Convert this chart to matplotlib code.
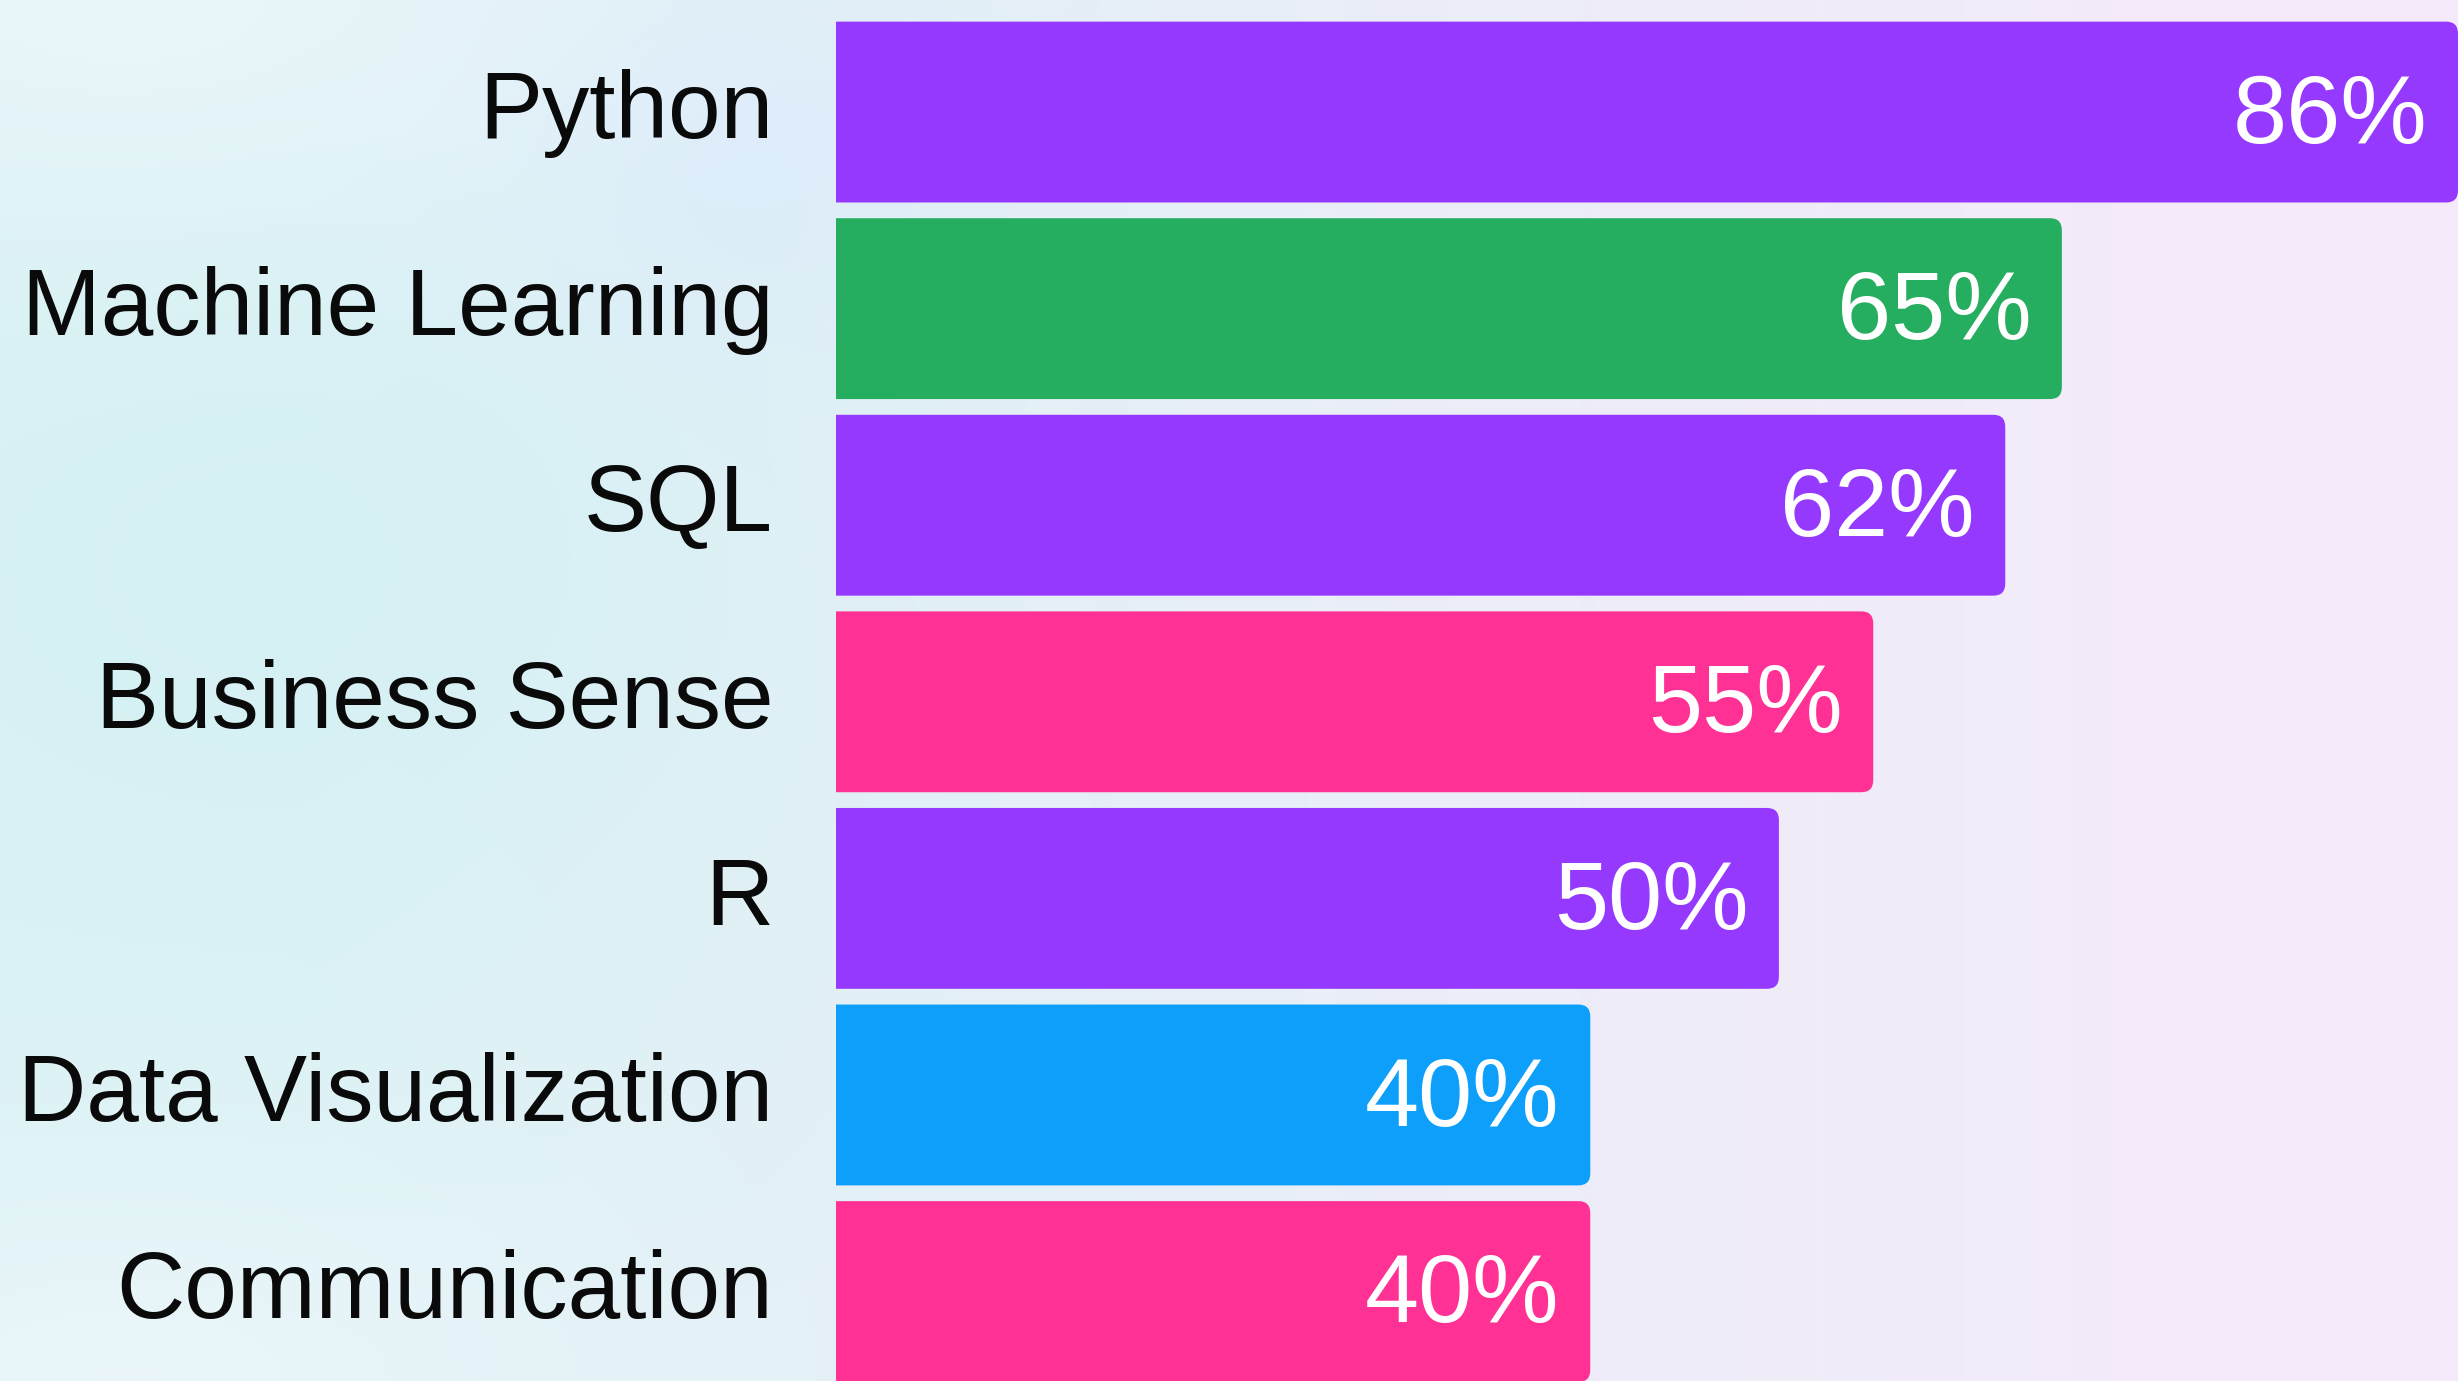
import numpy as np
import matplotlib
matplotlib.use("Agg")
import matplotlib.pyplot as plt
from matplotlib.patches import FancyBboxPatch
from matplotlib.transforms import ScaledTranslation

plt.rcParams["font.family"] = ["Liberation Sans", "DejaVu Sans"]

skills = ["Python", "Machine Learning", "SQL", "Business Sense", "R",
          "Data Visualization", "Communication"]
shares = [86, 65, 62, 55, 50, 40, 40]
colors = ["#9639ff", "#26ae60", "#9639ff", "#ff3194", "#9639ff",
          "#0d9ffa", "#ff3194"]

fig = plt.figure(figsize=(12.29, 6.905), dpi=200)

# soft pastel background
bg = fig.add_axes([0, 0, 1, 1], zorder=0)
bg.axis("off")
h, w = 140, 250
yy, xx = np.mgrid[1:0:h * 1j, 0:1:w * 1j]
left = np.array([0.86, 0.95, 0.96])
right = np.array([0.96, 0.92, 0.98])
t = np.clip(xx * 1.3 - 0.15, 0, 1)[..., None]
img = left * (1 - t) + right * t
blob = np.exp(-((xx - 0.12) ** 2 / 0.04 + (yy - 0.6) ** 2 / 0.06))[..., None]
img = img * (1 - 0.6 * blob) + np.array([0.82, 0.94, 0.95]) * 0.6 * blob
blue = np.exp(-((xx - 0.3) ** 2 / 0.01 + (yy - 0.9) ** 2 / 0.02))[..., None]
img = img * (1 - 0.5 * blue) + np.array([0.84, 0.91, 0.99]) * 0.5 * blue
for cy in (1.0, 0.0):
    wb = np.exp(-((yy - cy) ** 2) / 0.03 - ((xx - 0.05) ** 2) / 0.05)[..., None]
    img = img * (1 - 0.6 * wb) + np.array([0.95, 0.97, 0.99]) * 0.6 * wb
bg.imshow(img, extent=[0, 1, 0, 1], aspect="auto", interpolation="bicubic")
bg.set_xlim(0, 1)
bg.set_ylim(0, 1)

ax = fig.add_axes([0.340, 0, 0.660, 1], zorder=1)
ax.patch.set_alpha(0)
y = np.arange(len(skills))
bars = ax.barh(y, shares, height=0.92, color=colors, linewidth=0)
ax.set_xlim(0, 86)
ax.set_ylim(6.455, -0.570)

# rounded right ends, same geometry as the bars
fig.canvas.draw()
x0, x1 = ax.get_xlim()
y0, y1 = ax.get_ylim()
bb = ax.get_window_extent()
px_x = (x1 - x0) / bb.width
px_y = abs(y1 - y0) / bb.height
r = 12 * px_x
for b in bars:
    b.set_visible(False)
    p = FancyBboxPatch((b.get_x() - 2, b.get_y()), b.get_width() + 2, b.get_height(),
                       boxstyle=f"round,pad=0,rounding_size={r}",
                       mutation_aspect=px_y / px_x,
                       facecolor=b.get_facecolor(), linewidth=0)
    ax.add_patch(p)

for s in ax.spines.values():
    s.set_visible(False)
ax.set_xticks([])
ax.set_yticks(y)
ax.set_yticklabels(skills, fontsize=34, color="#0a0a0a")
ax.tick_params(axis="y", length=0, pad=22.5)
lift = ScaledTranslation(0, 3 / 72, fig.dpi_scale_trans)
for lbl in ax.get_yticklabels():
    lbl.set_transform(lbl.get_transform() + lift)

for b, v in zip(bars, shares):
    ax.annotate(f"{v}%", xy=(b.get_width(), b.get_y() + b.get_height() / 2),
                xytext=(-11, -2), textcoords="offset points",
                ha="right", va="center", fontsize=35, color="white")

fig.savefig("out.png", dpi=200)
